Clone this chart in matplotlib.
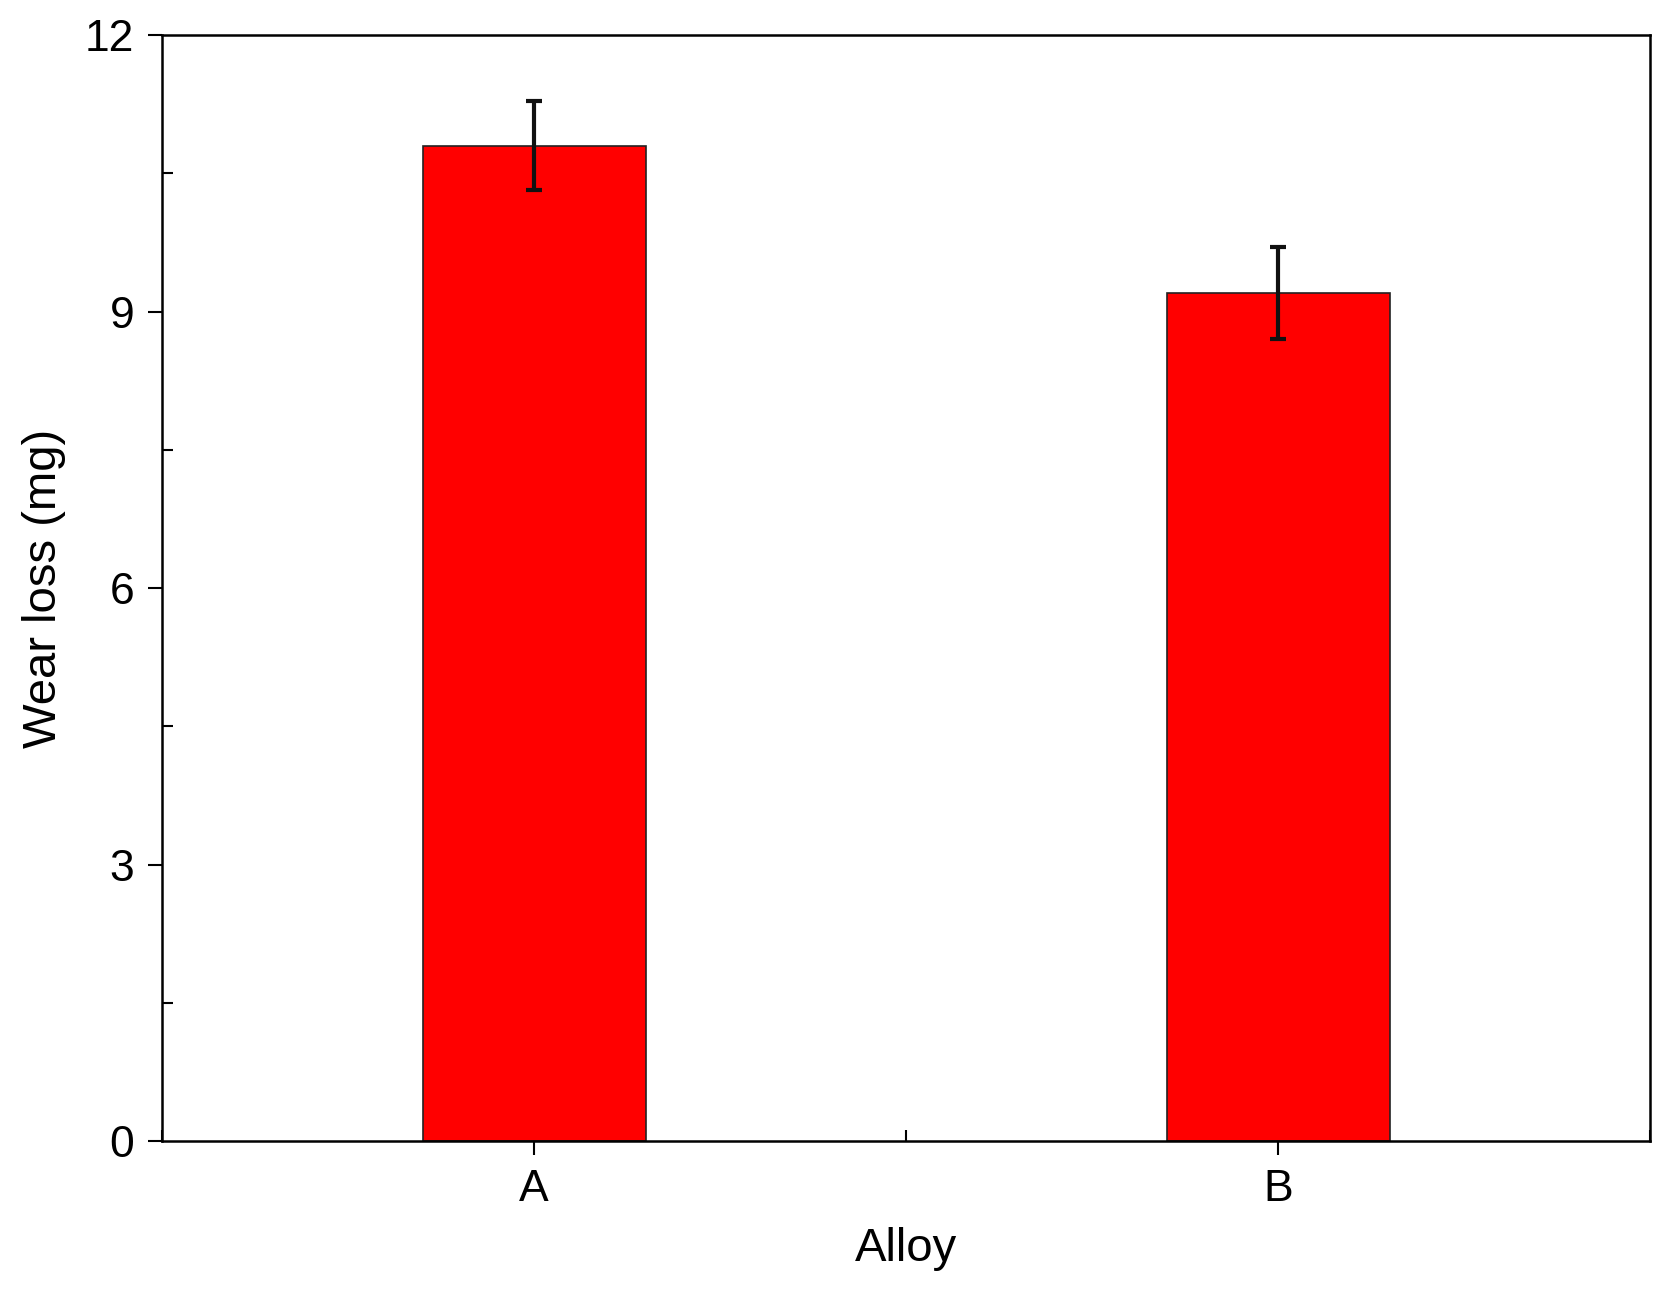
import numpy as np
import matplotlib.pyplot as plt
from matplotlib.ticker import MultipleLocator

alloys = ['A', 'B']
wear_loss = [10.8, 9.2]
wear_err = [0.48, 0.5]

plt.rcParams['font.family'] = ['Liberation Sans', 'DejaVu Sans']

fig = plt.figure(figsize=(16.72, 12.94), dpi=100)
ax = fig.add_axes([0.097, 0.118, 0.890, 0.855])

x = np.arange(1, len(alloys) + 1)
ax.bar(x, wear_loss, width=0.3, color='#ff0000', edgecolor='#222222', linewidth=1.2,
       yerr=wear_err, capsize=6, error_kw=dict(elinewidth=3, capthick=3, ecolor='#111111'))

ax.set_xlim(0.5, 2.5)
ax.set_ylim(0, 12)
ax.set_xticks(x)
ax.set_xticklabels(alloys)
ax.xaxis.set_minor_locator(MultipleLocator(0.5))
ax.yaxis.set_major_locator(MultipleLocator(3))
ax.yaxis.set_minor_locator(MultipleLocator(1.5))
ax.tick_params(which='major', direction='out', length=10, width=1.5, labelsize=32, pad=10)
ax.tick_params(which='minor', direction='in', length=8, width=1.5)
for s in ax.spines.values():
    s.set_linewidth(1.8)

ax.set_xlabel('Alloy', fontsize=34, labelpad=12)
ax.set_ylabel('Wear loss (mg)', fontsize=34, labelpad=14)

fig.savefig('out.png', dpi=100)
